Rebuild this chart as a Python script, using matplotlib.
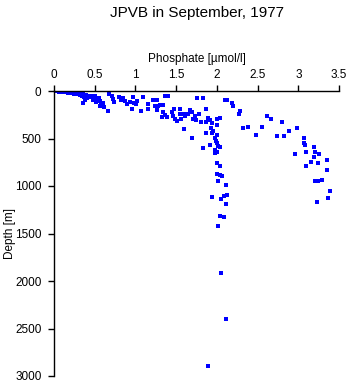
import matplotlib
matplotlib.use("Agg")
import matplotlib.pyplot as plt
import numpy as np

plt.rcParams['font.family'] = ['Liberation Sans', 'DejaVu Sans']

# phosphate [umol/l] and depth [m] of each sample
phosphate = [
    0.01, 0.02, 0.04, 0.05, 0.06, 0.07, 0.09, 0.10, 0.11, 0.12, 0.13, 0.15,
    0.16, 0.17, 0.18, 0.20, 0.21, 0.22, 0.23, 0.25, 0.26, 0.27, 0.28, 0.29,
    0.32, 0.33, 0.36, 0.34, 0.37, 0.39, 0.40, 0.38, 0.36, 0.42, 0.44, 0.47,
    0.49, 0.50, 0.48, 0.53, 0.55, 0.52, 0.56, 0.58, 0.60, 0.56, 0.61, 0.59,
    0.66, 0.67, 0.71, 0.72, 0.74, 0.80, 0.82, 0.85, 0.87, 0.90, 0.93, 0.96,
    0.97, 0.98, 1.01, 1.02, 1.07, 1.09, 1.15, 1.15, 1.21, 1.24, 1.26, 1.28,
    1.26, 1.30, 1.34, 1.36, 1.40, 1.34, 1.36, 1.39, 1.33, 1.45, 1.46, 1.47,
    1.48, 1.51, 1.55, 1.56, 1.60, 1.63, 1.60, 1.67, 1.69, 1.71, 1.73, 1.74,
    1.69, 1.75, 1.83, 1.78, 1.80, 1.87, 1.87, 1.89, 1.91, 1.94, 1.93, 1.95,
    1.94, 1.87, 2.00, 2.04, 2.00, 2.00, 1.98, 1.99, 2.00, 2.01, 1.98, 2.00,
    1.91, 1.83, 2.04, 1.98, 2.00, 2.04, 2.00, 2.04, 2.06, 2.01, 2.11, 2.13,
    2.09, 2.05, 1.94, 2.11, 2.04, 2.09, 2.02, 2.05, 2.11, 1.89, 2.10, 2.13,
    2.18, 2.20, 2.29, 2.27, 1.55, 1.61, 1.64,
    2.61, 2.67, 2.80, 2.32, 2.38, 2.55, 2.48, 2.74, 2.82, 2.88, 2.99, 3.07,
    3.07, 3.08, 3.19, 2.96, 3.10, 3.20, 3.26, 3.19, 3.15, 3.24, 3.35, 3.09,
    3.35, 3.21, 3.24, 3.29, 3.39, 3.36, 3.23,
]
depth = [
    2, 5, 3, 5, 10, 2, 5, 8, 12, 3, 6, 10,
    5, 20, 8, 12, 3, 18, 10, 30, 20, 12, 32, 22,
    42, 25, 32, 53, 63, 42, 74, 95, 126, 53, 63, 53,
    74, 53, 95, 84, 74, 116, 105, 137, 126, 158, 168, 147,
    211, 32, 53, 84, 116, 63, 95, 74, 105, 137, 116, 190,
    63, 126, 137, 105, 211, 63, 137, 190, 95, 158, 95, 158,
    200, 147, 147, 53, 53, 221, 253, 274, 274, 221, 263, 190,
    295, 316, 190, 295, 242, 242, 400, 200, 221, 295, 263, 305,
    495, 74, 74, 242, 326, 190, 326, 284, 305, 337, 390, 421,
    442, 442, 295, 284, 358, 463, 495, 527, 548, 579, 621, 642,
    569, 600, 590, 653, 758, 790, 874, 885, 895, 948, 990, 1095,
    1106, 1137, 1116, 1190, 1316, 1327, 1422, 1916, 2400, 2896, 95, 95,
    126, 158, 211, 242, 242, 263, 242,
    263, 295, 326, 390, 379, 379, 463, 474, 474, 421, 390, 495,
    548, 569, 590, 663, 642, 642, 663, 695, 748, 758, 727, 790,
    832, 948, 948, 937, 1053, 1127, 1169,
]

xticks = [0, 0.5, 1, 1.5, 2, 2.5, 3, 3.5]
xticklabels = ['0', '0.5', '1', '1.5', '2', '2.5', '3', '3.5']
yticks = [0, 500, 1000, 1500, 2000, 2500, 3000]

fig = plt.figure(figsize=(3.5, 3.84), dpi=100)
ax = fig.add_axes([54 / 350, 8 / 384, 285 / 350, 285 / 384])

ax.plot(phosphate, depth, 's', color='#0000ff', markersize=2.6,
        markeredgewidth=0)

ax.set_xlim(0, 3.5)
ax.set_ylim(3000, 0)
ax.xaxis.set_ticks_position('top')
ax.xaxis.set_label_position('top')
ax.set_xticks(xticks)
ax.set_xticklabels(xticklabels)
ax.set_yticks(yticks)
ax.tick_params(axis='both', direction='out', length=4, width=1,
               labelsize=8.5, pad=3, colors='black')
ax.tick_params(axis='y', pad=5)

for side in ['right', 'bottom']:
    ax.spines[side].set_visible(False)
for side in ['top', 'left']:
    ax.spines[side].set_linewidth(1)

ax.set_xlabel('Phosphate [µmol/l]', fontsize=8.5, labelpad=5)
ax.set_ylabel('Depth [m]', fontsize=8.5)
ax.yaxis.set_label_coords(-0.135, 0.5)
fig.text((54 + 339) / 2 / 350, 1 - 13 / 384, 'JPVB in September, 1977',
         fontsize=11, ha='center', va='center')

fig.savefig('out.png', dpi=100)
